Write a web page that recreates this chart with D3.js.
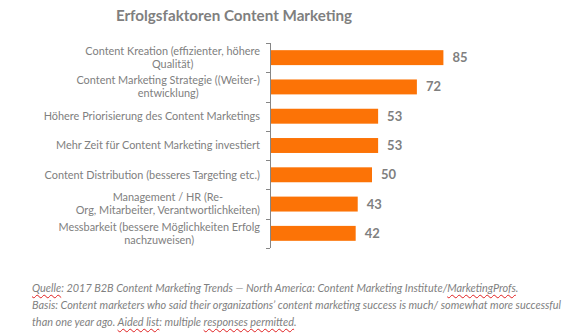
<!DOCTYPE html>
<html><head><meta charset="utf-8">
<script src="https://cdn.jsdelivr.net/npm/d3@7"></script>
<style>
html,body{margin:0;padding:0;background:#fff;}
#foot{position:absolute;left:32px;top:279px;font-family:Lato,sans-serif;font-style:italic;font-size:10.9px;line-height:17px;color:#7f7f7f;white-space:nowrap;}
.sq{text-decoration:underline wavy #e02020;text-decoration-thickness:1px;text-underline-offset:2px;}
</style></head>
<body>
<svg id="c" width="579" height="335"></svg>
<div id="foot"></div>
<script>
const title = "Erfolgsfaktoren Content Marketing";
const categories = [
  ["Content Kreation (effizienter, höhere", "Qualität)"],
  ["Content Marketing Strategie ((Weiter-)", "entwicklung)"],
  ["Höhere Priorisierung des Content Marketings"],
  ["Mehr Zeit für Content Marketing investiert"],
  ["Content Distribution (besseres Targeting etc.)"],
  ["Management / HR (Re-", "Org, Mitarbeiter, Verantwortlichkeiten)"],
  ["Messbarkeit (bessere Möglichkeiten Erfolg", "nachzuweisen)"]
];
const values = [85, 72, 53, 53, 50, 43, 42];
const footLines = [
  [["Quelle", true], [": 2017 B2B Content Marketing Trends — North America: Content Marketing Institute/", false], ["MarketingProfs", true], [".", false]],
  [["Basis: Content marketers who said their organizations’ content marketing success is much/ somewhat more successful", false]],
  [["than one year ago. ", false], ["Aided list", true], [": multiple ", false], ["responses permitted", true], [".", false]]
];

const svg = d3.select("#c");
const gray = "#7f7f7f";
const font = "Lato, sans-serif";
const idx = categories.map((d, i) => i);

const x = d3.scaleLinear().domain([0, 100]).range([270, 474]);
const y = d3.scaleBand().domain(idx).range([43, 248]).paddingInner(0.49).paddingOuter(0.245);
const yb = d3.scaleBand().domain(idx).range([43, 248]);

svg.append("text").attr("x", 234).attr("y", 20.5).attr("text-anchor", "middle")
  .attr("font-family", font).attr("font-weight", "bold").attr("font-size", 15.2)
  .attr("fill", gray).text(title);

// axis line and ticks
svg.append("line").attr("x1", 270.5).attr("x2", 270.5).attr("y1", 43).attr("y2", 248)
  .attr("stroke", "#868686").attr("stroke-width", 1);
const tickYs = idx.map(i => yb(i)).concat([248]);
svg.selectAll("line.tk").data(tickYs).join("line").attr("class", "tk")
  .attr("x1", 266).attr("x2", 270).attr("y1", d => Math.round(d) + 0.5).attr("y2", d => Math.round(d) + 0.5)
  .attr("stroke", "#868686");

svg.selectAll("rect.bar").data(values).join("rect").attr("class", "bar")
  .attr("x", x(0) + 1).attr("y", (d, i) => y(i)).attr("height", y.bandwidth())
  .attr("width", d => x(d) - x(0) - 1).attr("fill", "#fc7306");

svg.selectAll("text.val").data(values).join("text").attr("class", "val")
  .attr("x", d => x(d) + 9).attr("y", (d, i) => y(i) + y.bandwidth() / 2 + 4.5)
  .attr("font-family", font).attr("font-weight", "bold").attr("font-size", 13)
  .attr("fill", gray).text(d => d);

// category labels: block right-aligned, lines centered in block
const right = 260;
categories.forEach((lines, i) => {
  const g = svg.append("g");
  const lh = 13;
  const cy = yb(i) + yb.bandwidth() / 2;
  const t = g.selectAll("text").data(lines).join("text")
    .attr("font-family", font).attr("font-size", 10.9).attr("fill", "#808080")
    .attr("y", (d, j) => cy + (j - (lines.length - 1) / 2) * lh + 3.9)
    .text(d => d);
  let maxW = 0;
  t.each(function(){ maxW = Math.max(maxW, this.getComputedTextLength()); });
  t.attr("x", right - maxW / 2).attr("text-anchor", "middle");
});

const foot = d3.select("#foot");
footLines.forEach(parts => {
  const div = foot.append("div");
  parts.forEach(p => div.append("span").attr("class", p[1] ? "sq" : null).text(p[0]));
});
</script>
</body></html>
